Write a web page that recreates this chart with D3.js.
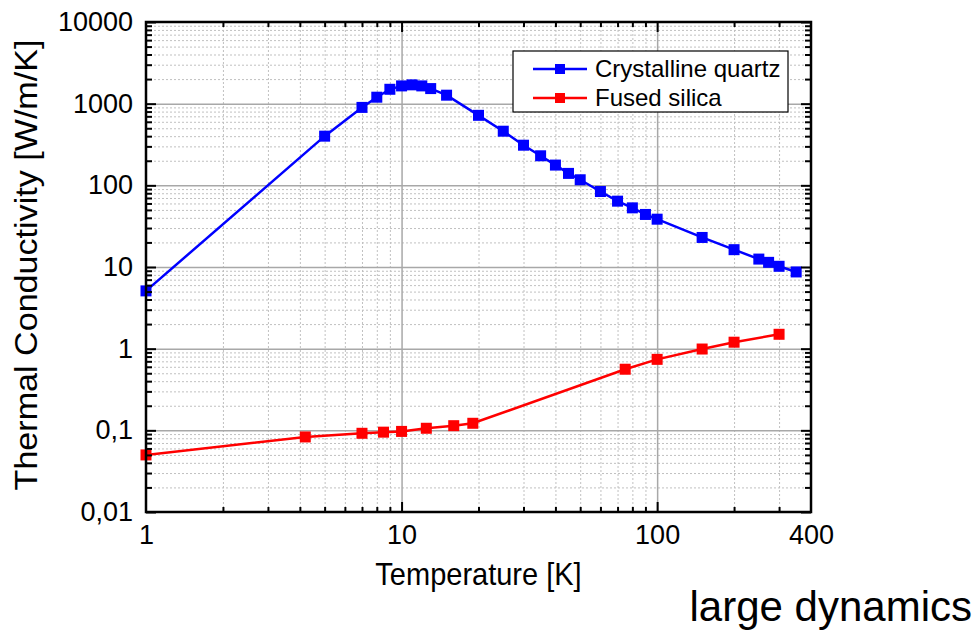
<!DOCTYPE html>
<html>
<head>
<meta charset="utf-8">
<script src="https://cdn.jsdelivr.net/npm/d3@7"></script>
<style>
  body { margin: 0; background: #fff; }
  text { font-family: "Liberation Sans", Arial, sans-serif; }
</style>
</head>
<body>
<svg id="chart"></svg>
<script>
// data
const quartzT = [1, 5, 7, 8, 9, 10, 11, 12, 13, 15, 20, 25, 30, 35, 40, 45, 50, 60, 70, 80, 90, 100, 150, 200, 250, 273, 300, 350];
const quartzK = [5.1, 400, 900, 1200, 1500, 1650, 1700, 1650, 1530, 1270, 720, 460, 310, 230, 177, 140, 117, 84, 64, 53, 44, 38.5, 23, 16.3, 12.5, 11.4, 10.2, 8.7];
const silicaT = [1, 4.2, 7, 8.5, 10, 12.5, 16, 19, 75, 100, 150, 200, 300];
const silicaK = [0.05, 0.083, 0.092, 0.095, 0.097, 0.106, 0.114, 0.122, 0.56, 0.74, 0.99, 1.2, 1.5];

const seriesNames = ["Crystalline quartz", "Fused silica"];
const seriesColors = ["#0000ff", "#ff0000"];

const xTicks = [1, 10, 100, 400];
const yTicks = [0.01, 0.1, 1, 10, 100, 1000, 10000];

const width = 977, height = 632;
const margin = {left: 146, right: 166, top: 22, bottom: 120};
const w = width - margin.left - margin.right;
const h = height - margin.top - margin.bottom;

const svg = d3.select("#chart")
    .attr("width", width)
    .attr("height", height);

const g = svg.append("g")
    .attr("transform", "translate(" + margin.left + "," + margin.top + ")");

const x = d3.scaleLog().domain([1, 400]).range([0, w]);
const y = d3.scaleLog().domain([0.01, 10000]).range([h, 0]);

// minor positions: 2..9 in every decade
const xMinor = [], yMinor = [];
for (let d = 1; d <= 100; d *= 10)
    for (let k = 2; k <= 9; k++) if (k * d < 400) xMinor.push(k * d);
for (let d = 0.01; d < 10000; d *= 10)
    for (let k = 2; k <= 9; k++) yMinor.push(+(k * d).toPrecision(3));

// minor grid, dotted
g.append("g")
    .attr("class", "grid minor")
    .attr("transform", "translate(0," + h + ")")
    .call(d3.axisBottom(x).tickValues(xMinor).tickSize(-h).tickFormat(""));
g.append("g")
    .attr("class", "grid minor")
    .call(d3.axisLeft(y).tickValues(yMinor).tickSize(-w).tickFormat(""));

// major grid, solid
g.append("g")
    .attr("class", "grid major")
    .attr("transform", "translate(0," + h + ")")
    .call(d3.axisBottom(x).tickValues([10, 100]).tickSize(-h).tickFormat(""));
g.append("g")
    .attr("class", "grid major")
    .call(d3.axisLeft(y).tickValues(yTicks.slice(1, -1)).tickSize(-w).tickFormat(""));

g.selectAll(".grid .domain").remove();
g.selectAll(".grid.minor line")
    .attr("stroke", "#c0c0c0")
    .attr("stroke-width", 1)
    .attr("stroke-dasharray", "2,2");
g.selectAll(".grid.major line")
    .attr("stroke", "#a8a8a8")
    .attr("stroke-width", 1.5);

// lines and markers
const line = d3.line()
    .x(d => x(d[0]))
    .y(d => y(d[1]));

const series = [
    d3.zip(quartzT, quartzK),
    d3.zip(silicaT, silicaK)
];

series.forEach(function(pts, i) {
    g.append("path")
        .datum(pts)
        .attr("fill", "none")
        .attr("stroke", seriesColors[i])
        .attr("stroke-width", 2.5)
        .attr("d", line);
    g.selectAll(".pt" + i)
        .data(pts)
        .enter().append("rect")
        .attr("class", "pt" + i)
        .attr("x", d => x(d[0]) - 5.5)
        .attr("y", d => y(d[1]) - 5.5)
        .attr("width", 11)
        .attr("height", 11)
        .attr("fill", seriesColors[i]);
});

// inward ticks on all four sides
function ticks(axis, vals, size, tr) {
    const a = g.append("g").attr("class", "tk");
    if (tr) a.attr("transform", tr);
    a.call(axis.tickValues(vals).tickSize(-size).tickFormat(""));
}
ticks(d3.axisBottom(x), xMinor, 5, "translate(0," + h + ")");
ticks(d3.axisBottom(x), [10, 100], 10, "translate(0," + h + ")");
ticks(d3.axisTop(x), xMinor, 5);
ticks(d3.axisTop(x), [10, 100], 10);
ticks(d3.axisLeft(y), yMinor, 6);
ticks(d3.axisLeft(y), yTicks, 10);
ticks(d3.axisRight(y), yMinor, 6, "translate(" + w + ",0)");
ticks(d3.axisRight(y), yTicks, 10, "translate(" + w + ",0)");
g.selectAll(".tk .domain").remove();
g.selectAll(".tk line").attr("stroke", "#000").attr("stroke-width", 2);

// tick labels
const xAxis = g.append("g")
    .attr("transform", "translate(0," + h + ")")
    .call(d3.axisBottom(x).tickValues(xTicks).tickSize(0).tickPadding(13).tickFormat(d3.format("d")));
const yAxis = g.append("g")
    .call(d3.axisLeft(y).tickValues(yTicks).tickSize(0).tickPadding(13)
        .tickFormat(d => String(d).replace(".", ",")));
[xAxis, yAxis].forEach(function(a) {
    a.select(".domain").remove();
    a.selectAll("text")
        .attr("font-size", "27px")
        .attr("font-family", "Liberation Sans, Arial, sans-serif")
        .attr("fill", "#000");
});

// frame
g.append("rect")
    .attr("width", w)
    .attr("height", h)
    .attr("fill", "none")
    .attr("stroke", "#000")
    .attr("stroke-width", 2.5);

// axis titles
svg.append("text")
    .attr("transform", "translate(" + (margin.left + w / 2) + ",585) scale(1,1.06)")
    .attr("text-anchor", "middle")
    .attr("font-size", "29px")
    .text("Temperature [K]");

svg.append("text")
    .attr("transform", "translate(37," + (margin.top + h / 2 - 2) + ") rotate(-90) scale(1.1,1)")
    .attr("text-anchor", "middle")
    .attr("font-size", "31px")
    .text("Thermal Conductivity [W/m/K]");

// legend
const legend = svg.append("g").attr("transform", "translate(513,51)");
legend.append("rect")
    .attr("width", 275)
    .attr("height", 61)
    .attr("fill", "#fff")
    .attr("stroke", "#000")
    .attr("stroke-width", 1.2);
seriesNames.forEach(function(name, i) {
    const row = legend.append("g").attr("transform", "translate(0," + (18 + i * 29) + ")");
    row.append("line")
        .attr("x1", 20).attr("x2", 74)
        .attr("stroke", seriesColors[i])
        .attr("stroke-width", 2.5);
    row.append("rect")
        .attr("x", 42).attr("y", -5)
        .attr("width", 10).attr("height", 10)
        .attr("fill", seriesColors[i]);
    row.append("text")
        .attr("x", 82)
        .attr("dy", "0.35em")
        .attr("font-size", "24px")
        .text(name);
});

// caption
svg.append("text")
    .attr("x", 972)
    .attr("y", 621)
    .attr("text-anchor", "end")
    .attr("font-family", "Lato, sans-serif")
    .attr("font-size", "42px")
    .text("large dynamics");
</script>
</body>
</html>
